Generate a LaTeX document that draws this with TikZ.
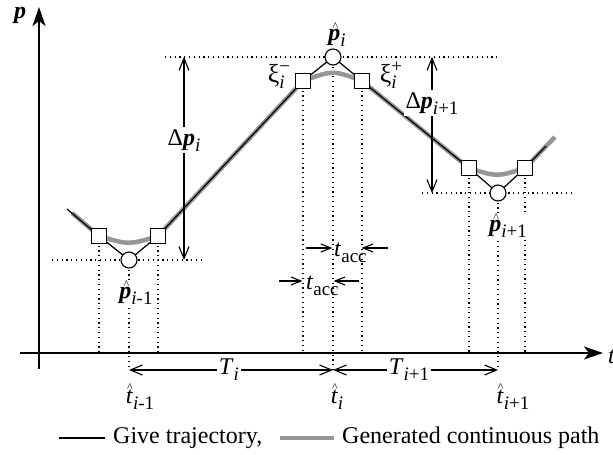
\documentclass[tikz,border=0pt]{standalone}
\usepackage{fontspec}
\setmainfont{Liberation Serif}
\usetikzlibrary{arrows.meta}
\definecolor{gpath}{RGB}{150,150,150}
\pgfdeclarelayer{bg}
\pgfsetlayers{bg,main}
\newcommand{\bpv}{\textbf{\textit{p}}}
\newcommand{\lsub}[1]{\raisebox{-6pt}{\fontsize{19}{19}\selectfont #1}}
\newcommand{\lsubsup}[2]{{\fontsize{19}{19}\selectfont\rlap{\raisebox{-6pt}{#1}}\raisebox{10pt}{#2}}}
\newcommand{\hatover}[3][0pt]{\leavevmode\setbox0\hbox{#3}\rlap{\hbox to\wd0{\hss\kern#1\raisebox{#2}{\fontsize{12}{12}\selectfont\textasciicircum}\hss}}\box0}
\begin{document}
\begin{tikzpicture}[x=1pt,y=-1pt,
  lbl/.style={font=\fontsize{24}{28}\selectfont, inner sep=1pt},
  onln/.style={lbl, fill=white, inner sep=2pt},
  sq/.style={draw, fill=white, rectangle, minimum size=15pt, inner sep=0pt, line width=1.1pt},
  cir/.style={draw, fill=white, circle, minimum size=16pt, inner sep=0pt, line width=1.1pt},
  traj/.style={line width=1.2pt, black},
  genp/.style={line width=4.5pt, gpath},
  dotl/.style={line width=1.2pt, dash pattern=on 1.2pt off 3.6pt},
  axisar/.style={line width=2pt, -{Stealth[length=19pt,width=13pt,inset=5pt]}},
  dimar/.style={line width=1.1pt, {Straight Barb[length=12pt,width=10pt]}-{Straight Barb[length=12pt,width=10pt]}},
  accar/.style={line width=1.1pt, -{Straight Barb[length=10pt,width=8pt]}}
]
\useasboundingbox (0,0) rectangle (613,455);

% key points
\node[cir] (c1) at (129,260) {};
\node[cir] (c2) at (333,57) {};
\node[cir] (c3) at (498,193) {};
\node[sq] (s1) at (99,236) {};
\node[sq] (s2) at (158,236) {};
\node[sq] (s3) at (303,81) {};
\node[sq] (s4) at (362,81) {};
\node[sq] (s5) at (469,168) {};
\node[sq] (s6) at (525,168) {};
\coordinate (st) at (67,209);
\coordinate (en) at (546,146);
\coordinate (gst) at (72,213);
\coordinate (gen) at (555,137);
\coordinate (xax) at (0,353);
\coordinate (tar) at (0,370);

% axes
\coordinate (ybot) at (39,369);
\coordinate (ytop) at (39,7);
\coordinate (xlft) at (20,353);
\coordinate (xrgt) at (603,353);
\draw[axisar] (ybot) -- (ytop);
\draw[axisar] (xlft) -- (xrgt);
\node[lbl] (plab) at (20,15) {\bpv};
\node[lbl, anchor=west] (tlab) at (607,357) {\textit{t}};

\begin{pgfonlayer}{bg}
  % horizontal guides
  \draw[dotl] (52,260) -- (205,260);
  \draw[dotl] (165,57) -- (500,57);
  \draw[dotl] (422,193) -- (575,193);
  % vertical guides
  \foreach \s in {s1,s2,s3,s4,s5,s6}
    \draw[dotl] (\s.center) -- (\s.center |- xax);
  \foreach \c in {c1,c2,c3}
    \draw[dotl] (\c.center) -- (\c.center |- tar);
  % generated path
  \draw[genp] (gst) -- (s1.center) .. controls (129,245) .. (s2.center)
     -- (s3.center) .. controls (333,70) .. (s4.center)
     -- (s5.center) .. controls (497,177) .. (s6.center) -- (gen);
  % given trajectory
  \draw[traj] (st) -- (s1.center) -- (c1.center) -- (s2.center) -- (s3.center)
     -- (c2.center) -- (s4.center) -- (s5.center) -- (c3.center) -- (s6.center) -- (en);
\end{pgfonlayer}

% point labels
\node[lbl] (lpi) at (337,35) {\hatover[2pt]{10pt}{\bpv}\lsub{\textit{i}}};
\node[lbl, font=\fontsize{26}{28}\selectfont] (lxm) at (279,76) {ξ\lsubsup{\textit{i}}{−}};
\node[lbl, font=\fontsize{26}{28}\selectfont] (lxp) at (391,75) {ξ\lsubsup{\textit{i}}{+}};
\node[lbl, fill=white, inner sep=0pt] (lpim) at (136,293) {\hatover[2pt]{10pt}{\bpv}\lsub{\textit{i}-1}};
\node[lbl, fill=white, inner sep=0pt] (lpip) at (508,226) {\hatover[2pt]{10pt}{\bpv}\lsub{\textit{i}+1}};

% delta p arrows
\coordinate (dp1t) at (184,57);
\coordinate (dp1b) at (184,260);
\coordinate (dp2t) at (432,57);
\coordinate (dp2b) at (432,193);
\draw[dimar] (dp1t) -- node[onln, pos=0.41] (ldp1) {Δ\bpv\lsub{\textit{i}}} (dp1b);
\draw[dimar] (dp2t) -- node[onln, pos=0.34] (ldp2) {Δ\bpv\lsub{\textit{i}+1}} (dp2b);

% t_acc arrows
\coordinate (a1s) at (306,248);
\coordinate (a1e) at (332.4,248);
\coordinate (a2s) at (388,248);
\coordinate (a2e) at (361.6,248);
\coordinate (b1s) at (279,281);
\coordinate (b1e) at (302.4,281);
\coordinate (b2s) at (359,281);
\coordinate (b2e) at (333.6,281);
\draw[accar] (a1s) -- (a1e);
\draw[accar] (a2s) -- (a2e);
\draw[accar] (b1s) -- (b1e);
\draw[accar] (b2s) -- (b2e);
\node[lbl, anchor=west] (lacc1) at (333,253) {\textit{t}\lsub{acc}};
\node[lbl, anchor=west] (lacc2) at (305,286) {\textit{t}\lsub{acc}};

% T arrows
\coordinate (T1) at (c1.center |- tar);
\coordinate (T2) at (c2.center |- tar);
\coordinate (T3) at (c3.center |- tar);
\draw[dimar] (T1) -- node[onln, pos=0.49] (lT1) {\textit{T}\lsub{\textit{i}}} (T2);
\draw[dimar] (T2) -- node[onln, pos=0.46] (lT2) {\textit{T}\lsub{\textit{i}+1}} (T3);

% t hat labels
\node[lbl] (lt1) at (140,397) {\hatover[1pt]{12pt}{\textit{t}}\lsub{\textit{i}-1}};
\node[lbl] (lt2) at (337,397) {\hatover[1pt]{12pt}{\textit{t}}\lsub{\textit{i}}};
\node[lbl] (lt3) at (513,397) {\hatover[1pt]{12pt}{\textit{t}}\lsub{\textit{i}+1}};

% legend
\coordinate (lg1a) at (59,438);
\coordinate (lg1b) at (105,438);
\coordinate (lg2a) at (280,438);
\coordinate (lg2b) at (334,438);
\draw[traj] (lg1a) -- (lg1b);
\node[lbl, anchor=west] (lgt1) at (112,438) {Give trajectory,};
\draw[genp] (lg2a) -- (lg2b);
\node[lbl, anchor=west] (lgt2) at (341,438) {Generated continuous path};
\end{tikzpicture}
\end{document}
